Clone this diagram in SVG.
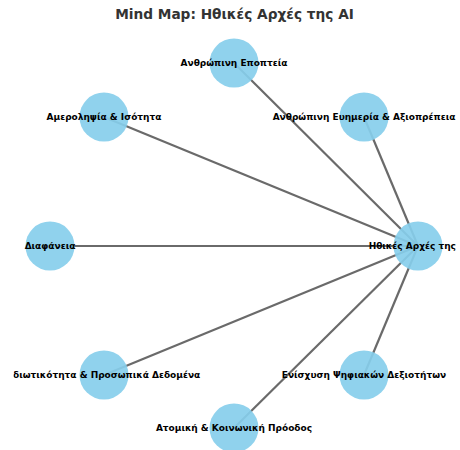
<svg xmlns="http://www.w3.org/2000/svg" width="460" height="450" viewBox="0 0 460 450">
<defs><clipPath id="ax"><rect x="13.5" y="0" width="443.5" height="450"/></clipPath></defs>
<style>
.e{stroke:#6a6a6a;stroke-width:2.2;fill:none}
.n{fill:#87ceeb;opacity:0.92}
.t{font-family:"DejaVu Sans",sans-serif;font-weight:bold;font-size:9px;fill:#000;text-anchor:middle;dominant-baseline:central}
.title{font-family:"DejaVu Sans",sans-serif;font-weight:bold;font-size:13.7px;fill:#333;text-anchor:middle}
</style>
<rect width="460" height="450" fill="#fff"/>
<text class="title" x="234.5" y="19">Mind Map: Ηθικές Αρχές της AI</text>
<g id="connectors">
<line class="e" x1="418" y1="246" x2="234" y2="63"/>
<line class="e" x1="418" y1="246" x2="104" y2="117"/>
<line class="e" x1="418" y1="246" x2="364" y2="117"/>
<line class="e" x1="418" y1="246" x2="50" y2="246"/>
<line class="e" x1="418" y1="246" x2="104" y2="375"/>
<line class="e" x1="418" y1="246" x2="364" y2="375"/>
<line class="e" x1="418" y1="246" x2="234" y2="428"/>
</g>
<g id="n-center"><circle class="n" cx="418" cy="246" r="24.5"/><text class="t" x="419" y="246" clip-path="url(#ax)">Ηθικές Αρχές της AI</text></g>
<g id="n-oversight"><circle class="n" cx="234" cy="63" r="24.5"/><text class="t" x="234" y="63">Ανθρώπινη Εποπτεία</text></g>
<g id="n-fairness"><circle class="n" cx="104" cy="117" r="24.5"/><text class="t" x="104" y="117">Αμεροληψία &amp; Ισότητα</text></g>
<g id="n-wellbeing"><circle class="n" cx="364" cy="117" r="24.5"/><text class="t" x="364" y="117">Ανθρώπινη Ευημερία &amp; Αξιοπρέπεια</text></g>
<g id="n-transparency"><circle class="n" cx="50" cy="246" r="24.5"/><text class="t" x="50" y="246">Διαφάνεια</text></g>
<g id="n-privacy"><circle class="n" cx="104" cy="375" r="24.5"/><text class="t" x="105" y="375" clip-path="url(#ax)">Ιδιωτικότητα &amp; Προσωπικά Δεδομένα</text></g>
<g id="n-skills"><circle class="n" cx="364" cy="375" r="24.5"/><text class="t" x="364" y="375">Ενίσχυση Ψηφιακών Δεξιοτήτων</text></g>
<g id="n-progress"><circle class="n" cx="234" cy="428" r="24.5"/><text class="t" x="234" y="428">Ατομική &amp; Κοινωνική Πρόοδος</text></g>
</svg>
